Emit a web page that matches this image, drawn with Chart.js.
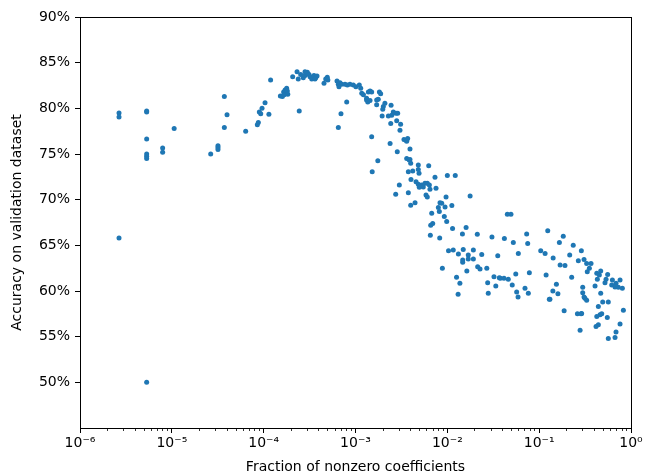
<!DOCTYPE html>
<html>
<head>
<meta charset="utf-8">
<script src="https://cdn.jsdelivr.net/npm/chart.js"></script>
<style>
  html, body { margin: 0; padding: 0; background: #fff; }
  #wrap { width: 645px; height: 476px; }
</style>
</head>
<body>
<div id="wrap"><canvas id="chart"></canvas></div>
<script>
// fraction of nonzero coefficients (x) and validation accuracy in % (y)
const fractions = [
  2.66e-6, 2.66e-6, 2.66e-6, 5.32e-6, 5.32e-6, 5.32e-6, 5.32e-6, 5.32e-6, 5.32e-6, 5.32e-6,
  7.94e-6, 7.94e-6, 1.06e-5, 2.65e-5, 3.18e-5, 3.18e-5, 3.18e-5, 3.73e-5, 3.73e-5, 3.99e-5,
  6.37e-5, 8.53e-5, 8.75e-5, 8.97e-5, 9.29e-5, 9.6e-5, 1.035e-4, 1.14e-4, 1.19e-4, 1.52e-4,
  1.6e-4, 1.65e-4, 1.71e-4, 1.78e-4, 1.81e-4, 1.67e-4, 1.83e-4, 2.07e-4, 2.31e-4, 2.38e-4,
  2.44e-4, 2.53e-4, 2.7e-4, 2.82e-4, 2.99e-4, 3.12e-4, 3.2e-4, 3.34e-4, 3.53e-4, 3.69e-4,
  3.81e-4, 3.62e-4, 4.54e-4, 4.74e-4, 4.93e-4, 2.82e-4, 5.0e-4, 6.29e-4, 6.5e-4, 6.78e-4,
  7.08e-4, 7.69e-4, 6.61e-4, 6.95e-4, 6.5e-4, 8.02e-4, 8.15e-4, 8.71e-4, 9.46e-4, 1.01e-3,
  1.1e-3, 1.14e-3, 1.17e-3, 1.22e-3, 1.32e-3, 1.38e-3, 1.44e-3, 1.5e-3, 1.32e-3, 1.36e-3,
  1.44e-3, 1.5e-3, 1.7e-3, 1.77e-3, 1.82e-3, 1.88e-3, 1.7e-3, 2.01e-3, 1.98e-3, 2.09e-3,
  2.44e-3, 2.58e-3, 2.48e-3, 2.28e-3, 2.76e-3, 2.88e-3, 1.95e-3, 2.42e-3, 2.81e-3, 3.1e-3,
  3.05e-3, 2.38e-3, 2.85e-3, 3.37e-3, 3.55e-3, 3.7e-3, 3.61e-3, 3.92e-3, 1.75e-3, 1.52e-3,
  3.61e-3, 3.85e-3, 3.99e-3, 3.92e-3, 4.83e-3, 4.83e-3, 4.92e-3, 4.2e-3, 3.76e-3, 6.27e-3,
  4.02e-3, 4.56e-3, 4.83e-3, 5.04e-3, 5.26e-3, 5.47e-3, 4.95e-3, 5.71e-3, 6.05e-3, 6.37e-3,
  6.47e-3, 7.34e-3, 7.53e-3, 1.0e-2, 1.22e-2, 3.0e-3, 2.74e-3, 3.76e-3, 5.86e-3, 6.05e-3,
  4.45e-3, 3.99e-3, 8.32e-3, 8.69e-3, 7.98e-3, 9.44e-3, 9.68e-3, 8.18e-3, 6.76e-3, 9.27e-3,
  1.77e-2, 1.12e-2, 9.84e-3, 6.93e-3, 6.59e-3, 1.14e-2, 1.6e-2, 1.46e-2, 2.12e-2, 3.06e-2,
  6.53e-3, 8.26e-3, 1.03e-2, 1.16e-2, 1.32e-2, 1.49e-2, 1.69e-2, 1.92e-2, 2.37e-2, 3.54e-2,
  1.47e-2, 1.47e-2, 1.69e-2, 1.92e-2, 2.14e-2, 2.27e-2, 2.69e-2, 1.63e-2, 8.83e-3, 1.26e-2,
  1.37e-2, 2.75e-2, 3.22e-2, 3.37e-2, 3.68e-2, 4.18e-2, 4.5e-2, 4.93e-2, 7.31e-2, 1.24e-1,
  5.23e-2, 7.5e-2, 5.93e-2, 1.04e-1, 1.16e-1, 3.78e-2, 4.14e-2, 4.61e-2, 5.56e-2, 7.82e-2,
  1.19e-1, 5.09e-2, 7.01e-2, 1.31e-2, 2.79e-2, 5.69e-2, 5.89e-2, 7.62e-2, 1.29e-1, 1.83e-1,
  1.66e-1, 2.35e-1, 1.42e-1, 2.15e-1, 2.88e-1, 2.67e-1, 3.08e-1, 3.29e-1, 3.67e-1, 3.52e-1,
  3.34e-1, 4.24e-1, 4.52e-1, 4.68e-1, 4.3e-1, 5.57e-1, 5.35e-1, 5.21e-1, 6.27e-1, 6.87e-1,
  7.6e-1, 6.17e-1, 6.7e-1, 7.28e-1, 8.05e-1, 4.06e-1, 2.98e-1, 2.98e-1, 3.15e-1, 3.29e-1,
  4.68e-1, 4.92e-1, 5.66e-1, 8.26e-1, 2.9e-1, 4.41e-1, 4.6e-1, 4.24e-1, 4.8e-1, 5.52e-1,
  7.6e-1, 4.41e-1, 4.16e-1, 6.87e-1, 6.7e-1, 5.66e-1, 2.79e-1, 1.69e-1, 1.91e-1, 2.26e-1,
  1.54e-1, 1.41e-1, 1.6e-1, 1.31e-1, 3.08e-1, 1.87e-1, 2.61e-1, 2.86e-1
];
const accuracies = [
  79.5, 79.05, 65.8, 79.6, 79.7, 76.65, 75.0, 74.75, 74.5, 50.0,
  75.65, 75.2, 77.8, 75.0, 75.9, 75.7, 75.5, 81.3, 77.9, 79.3,
  77.5, 78.2, 78.45, 79.6, 79.4, 80.0, 80.6, 79.35, 83.1, 81.35,
  81.3, 81.8, 82.0, 82.2, 81.9, 81.5, 81.55, 83.45, 84.0, 83.2,
  79.7, 83.7, 83.35, 83.6, 83.95, 83.7, 83.45, 83.2, 83.6, 83.35,
  83.55, 83.2, 82.75, 83.2, 83.4, 84.0, 83.1, 83.0, 82.65, 82.8,
  82.65, 82.65, 82.35, 79.4, 77.9, 80.7, 82.55, 82.65, 82.55, 82.35,
  82.55, 82.2, 81.65, 81.5, 81.1, 81.8, 81.9, 81.8, 80.9, 80.7,
  80.85, 76.9, 80.9, 81.0, 81.8, 81.6, 80.4, 80.2, 79.9, 80.55,
  80.35, 79.6, 79.25, 79.15, 79.45, 79.45, 79.15, 78.35, 78.65, 78.25,
  77.6, 76.15, 75.25, 76.6, 76.5, 76.7, 76.4, 75.55, 74.25, 73.05,
  74.5, 74.35, 74.0, 74.4, 73.8, 73.3, 72.9, 73.15, 73.05, 73.7,
  72.2, 71.95, 71.7, 71.5, 71.6, 71.4, 71.35, 71.8, 71.8, 71.6,
  71.15, 72.45, 71.25, 72.65, 72.65, 71.6, 70.6, 70.75, 70.5, 70.3,
  69.65, 69.4, 69.65, 69.6, 69.15, 69.2, 70.3, 68.7, 68.5, 68.15,
  70.4, 69.35, 67.6, 67.4, 67.2, 66.85, 66.95, 66.25, 66.2, 65.9,
  66.1, 65.8, 64.4, 64.5, 64.05, 64.55, 63.95, 64.5, 64.0, 63.85,
  63.4, 63.15, 63.5, 63.5, 62.65, 62.4, 62.5, 62.2, 62.5, 61.5,
  60.85, 60.9, 61.55, 60.55, 61.45, 65.75, 68.4, 68.4, 66.25, 66.6,
  65.3, 65.2, 64.1, 64.4, 64.1, 61.4, 61.4, 61.3, 61.85, 62.0,
  61.75, 60.65, 60.3, 59.65, 59.75, 59.9, 59.35, 59.75, 59.1, 66.0,
  65.3, 65.0, 63.6, 63.95, 64.4, 63.3, 63.45, 63.0, 63.0, 62.5,
  62.1, 61.95, 61.75, 62.2, 61.3, 61.8, 61.3, 60.9, 61.2, 60.85,
  61.2, 60.65, 60.45, 60.4, 60.3, 60.55, 60.4, 59.8, 59.2, 59.0,
  59.75, 58.8, 58.8, 57.9, 57.55, 58.3, 57.4, 57.2, 57.5, 57.1,
  56.4, 56.3, 56.1, 55.5, 54.9, 54.8, 55.7, 62.85, 62.8, 61.5,
  60.75, 60.0, 59.7, 59.1, 59.35, 57.85, 57.5, 57.5
];

const xTickValues = [1e-6, 1e-5, 1e-4, 1e-3, 1e-2, 1e-1, 1];
const xTickLabels = ['10⁻⁶', '10⁻⁵', '10⁻⁴', '10⁻³', '10⁻²', '10⁻¹', '10⁰'];
const yTickValues = [50, 55, 60, 65, 70, 75, 80, 85, 90];

const FONT = { family: 'DejaVu Sans', size: 14 };

// minor ticks: 2..9 within each decade
const minorTicks = [];
for (let d = 0; d < xTickValues.length - 1; d++) {
  for (let m = 2; m <= 9; m++) minorTicks.push(m * xTickValues[d]);
}

const frame = {
  id: 'frame',
  afterDatasetsDraw(chart) {
    const { ctx, chartArea: a } = chart;
    ctx.save();
    ctx.strokeStyle = '#000';
    ctx.lineWidth = 1;
    ctx.strokeRect(Math.round(a.left) + 0.5, Math.round(a.top) + 0.5,
      Math.round(a.right - a.left), Math.round(a.bottom - a.top));
    ctx.restore();
  }
};

new Chart(document.getElementById('chart'), {
  type: 'scatter',
  data: {
    datasets: [{
      data: fractions.map((x, i) => ({ x, y: accuracies[i] })),
      backgroundColor: '#1f77b4',
      borderWidth: 0,
      pointRadius: 2.5,
      pointHoverRadius: 2.5
    }]
  },
  options: {
    responsive: true,
    maintainAspectRatio: false,
    animation: false,
    layout: { padding: { top: 17, right: 14, left: 0, bottom: 0 } },
    plugins: { legend: { display: false }, tooltip: { enabled: false } },
    scales: {
      xMinor: {
        type: 'logarithmic',
        position: 'bottom',
        weight: 0,
        min: 1e-6,
        max: 1,
        afterBuildTicks: s => { s.ticks = minorTicks.map(v => ({ value: v })); },
        afterFit: s => { s.height = 0; },
        ticks: { display: false, autoSkip: false },
        border: { display: false },
        grid: { drawOnChartArea: false, tickLength: 3, tickColor: '#000', tickWidth: 0.8 }
      },
      x: {
        type: 'logarithmic',
        position: 'bottom',
        weight: 1,
        min: 1e-6,
        max: 1,
        afterBuildTicks: s => { s.ticks = xTickValues.map(v => ({ value: v })); },
        afterFit: s => { s.height = 48; },
        ticks: {
          autoSkip: false,
          maxRotation: 0,
          padding: 2,
          color: '#000',
          font: FONT,
          callback: (v) => xTickLabels[xTickValues.findIndex(t => Math.abs(Math.log10(t) - Math.log10(v)) < 1e-6)]
        },
        border: { display: false },
        grid: { drawOnChartArea: false, tickLength: 5, tickColor: '#000', tickWidth: 1 },
        title: {
          display: true,
          text: 'Fraction of nonzero coefficients',
          color: '#000',
          font: FONT,
          padding: { top: 0, bottom: 0 }
        }
      },
      y: {
        type: 'linear',
        min: 45,
        max: 90,
        afterBuildTicks: s => { s.ticks = yTickValues.map(v => ({ value: v })); },
        afterFit: s => { s.width = 80; },
        ticks: {
          padding: 5,
          color: '#000',
          font: FONT,
          callback: v => v + '%'
        },
        border: { display: false },
        grid: { drawOnChartArea: false, tickLength: 5, tickColor: '#000', tickWidth: 1 },
        title: {
          display: true,
          text: 'Accuracy on validation dataset',
          color: '#000',
          font: FONT,
          padding: { top: 9, bottom: 0 }
        }
      }
    }
  },
  plugins: [frame]
});
</script>
</body>
</html>
